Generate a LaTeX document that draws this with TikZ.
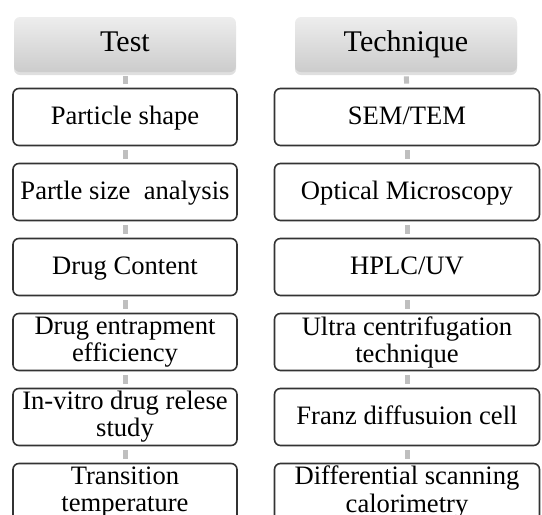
\documentclass[tikz,border=0pt]{standalone}
\usepackage{fontspec}
\setmainfont{Liberation Serif}
\usetikzlibrary{positioning,shadows}

\tikzset{
  head/.style={rounded corners=3pt, top color=gray!14, middle color=gray!3, bottom color=gray!40,
    minimum width=111pt, minimum height=27.5pt, text height=2.2ex, text depth=0.6ex,
    drop shadow={opacity=0.25,shadow xshift=0pt,shadow yshift=-1.5pt},
    font=\fontsize{15}{16}\selectfont},
  lbox/.style={draw=black!80, line width=0.8pt, rounded corners=3pt, fill=white, minimum width=112pt,
    minimum height=28.5pt, align=center, inner sep=1pt, font=\fontsize{13.3}{13.5}\selectfont},
  rbox/.style={lbox, minimum width=132.5pt},
  oneline/.style={text height=2.2ex, text depth=0.6ex},
  link/.style={gray!50, line width=2.5pt, shorten >=2pt, shorten <=2pt},
}

\begin{document}
\begin{tikzpicture}[x=0.5pt,y=-0.5pt]
    \useasboundingbox (0,0) rectangle (542,515);
    \clip (0,0) rectangle (542,515);
    % headers
    \node[head] (test) at (125,44.5) {Test};
    \node[head] (tech) at (406,44.5) {Technique};
    % tests
    \node[lbox,oneline] (shape) at (125,117) {Particle shape};
    \node[lbox,oneline] (size) at (125,192) {Partle size~ analysis};
    \node[lbox,oneline] (content) at (125,267) {Drug Content};
    \node[lbox] (entrap) at (125,342) {Drug entrapment\\efficiency};
    \node[lbox] (release) at (125,417) {In-vitro drug relese\\study};
    \node[lbox] (trans) at (125,492) {Transition\\temperature};
    % techniques
    \node[rbox,oneline] (sem) at (407,117) {SEM/TEM};
    \node[rbox,oneline] (optic) at (407,192) {Optical Microscopy};
    \node[rbox,oneline] (hplc) at (407,267) {HPLC/UV};
    \node[rbox] (ultra) at (407,342) {Ultra centrifugation\\technique};
    \node[rbox,oneline] (franz) at (407,417) {Franz diffusuion cell};
    \node[rbox] (dsc) at (407,492) {Differential scanning\\calorimetry};
    \foreach \a/\b in {test/shape,shape/size,size/content,content/entrap,entrap/release,release/trans,
                       tech/sem,sem/optic,optic/hplc,hplc/ultra,ultra/franz,franz/dsc}
    \draw[link] (\a) -- (\b);
\end{tikzpicture}
\end{document}
